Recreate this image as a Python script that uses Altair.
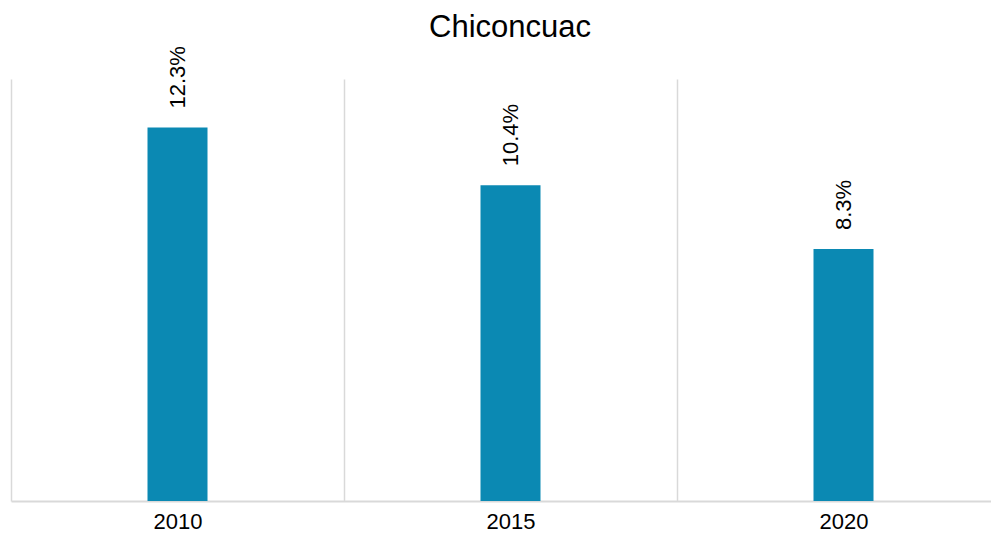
import altair as alt
import pandas as pd

years = ["2010", "2015", "2020"]
values = [12.3, 10.4, 8.3]
labels = ["12.3%", "10.4%", "8.3%"]
title_text = ["Chiconcuac"]

df = pd.DataFrame({"year": years, "value": values, "label": labels})
df_title = pd.DataFrame({"title": title_text})

FONT = "Liberation Sans"
BAR_COLOR = "#0B89B3"
GRID = "#D9D9D9"

x_enc = alt.X(
    "year:N",
    sort=years,
    title=None,
    scale=alt.Scale(range=[0, 999], paddingInner=0, paddingOuter=0),
    axis=alt.Axis(
        labelAngle=0,
        labelFont=FONT,
        labelFontSize=22,
        labelColor="#000000",
        labelBaseline="alphabetic",
        labelPadding=27,
        ticks=False,
        tickSize=0,
        domain=True,
        domainColor=GRID,
        domainWidth=2,
        grid=True,
        gridColor=GRID,
        gridWidth=1.5,
        tickBand="extent",
    ),
)
y_enc = alt.Y(
    "value:Q",
    title=None,
    scale=alt.Scale(domain=[0, 13.9], nice=False, zero=True),
    axis=None,
)

bars = alt.Chart(df).mark_bar(size=60, color=BAR_COLOR).encode(x=x_enc, y=y_enc)

text = alt.Chart(df).mark_text(
    angle=270,
    align="left",
    baseline="middle",
    dx=19,
    font=FONT,
    fontSize=22,
    color="#000000",
).encode(
    x=alt.X("year:N", sort=years),
    y=alt.Y("value:Q"),
    text="label:N",
)

title = alt.Chart(df_title).mark_text(
    align="center",
    baseline="alphabetic",
    font=FONT,
    fontSize=31,
    color="#000000",
).encode(x=alt.value(499), y=alt.value(-42), text="title:N")

chart = (
    alt.layer(bars, text, title)
    .properties(
        width=980,
        height=422,
        autosize="none",
        background="white",
        padding={"left": 3, "top": 71, "right": 0, "bottom": 32},
    )
    .configure_view(strokeWidth=0, stroke="transparent")
)

chart.save("out.html", embed_options={"renderer": "svg", "actions": False})
